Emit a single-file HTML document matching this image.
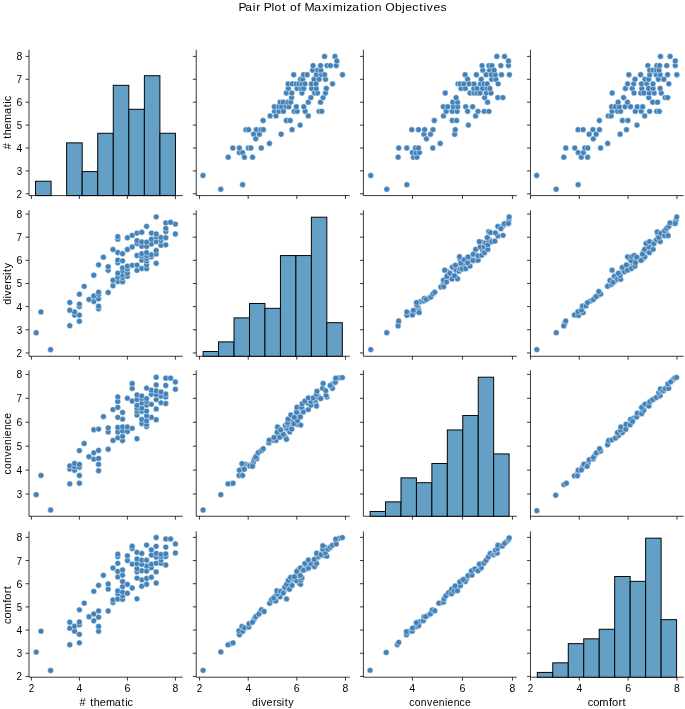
<!DOCTYPE html>
<html><head><meta charset="utf-8"><title>Pair Plot of Maximization Objectives</title><style>html,body{margin:0;padding:0;background:#fff;}svg{display:block;will-change:transform;}</style></head>
<body>
<svg width="685" height="709" viewBox="0 0 685 709">
<rect width="685" height="709" fill="#fff"/>
<path d="M29.00 49.70V195.60M29.00 195.60H182.75M31.39 195.60v3.41M79.39 195.60v3.41M127.39 195.60v3.41M175.39 195.60v3.41M29.00 193.81h-3.41M29.00 170.91h-3.41M29.00 148.00h-3.41M29.00 125.10h-3.41M29.00 102.20h-3.41M29.00 79.29h-3.41M29.00 56.39h-3.41" stroke="#000" stroke-width="0.78" fill="none"/>
<g fill="#64a0c6" stroke="#000" stroke-width="0.97"><rect x="35.55" y="181.22" width="15.54" height="14.38"/><rect x="66.64" y="142.86" width="15.54" height="52.74"/><rect x="82.18" y="171.63" width="15.54" height="23.97"/><rect x="97.73" y="133.27" width="15.54" height="62.33"/><rect x="113.27" y="85.32" width="15.54" height="110.28"/><rect x="128.82" y="109.29" width="15.54" height="86.31"/><rect x="144.36" y="75.73" width="15.54" height="119.87"/><rect x="159.91" y="133.27" width="15.54" height="62.33"/></g>
<g fill="#4282b8" stroke="#fff" stroke-width="0.47"><circle cx="202.99" cy="175.49" r="2.92"/><circle cx="220.75" cy="189.23" r="2.92"/><circle cx="228.21" cy="157.16" r="2.92"/><circle cx="242.60" cy="184.65" r="2.92"/><circle cx="232.83" cy="148.00" r="2.92"/><circle cx="239.34" cy="152.58" r="2.92"/><circle cx="239.34" cy="148.00" r="2.92"/><circle cx="242.60" cy="152.58" r="2.92"/><circle cx="244.39" cy="157.16" r="2.92"/><circle cx="248.27" cy="148.00" r="2.92"/><circle cx="252.58" cy="157.16" r="2.92"/><circle cx="250.90" cy="148.00" r="2.92"/><circle cx="245.96" cy="129.68" r="2.92"/><circle cx="248.69" cy="129.68" r="2.92"/><circle cx="253.63" cy="134.26" r="2.92"/><circle cx="255.73" cy="138.84" r="2.92"/><circle cx="261.30" cy="148.00" r="2.92"/><circle cx="256.36" cy="129.68" r="2.92"/><circle cx="259.41" cy="134.26" r="2.92"/><circle cx="260.99" cy="129.68" r="2.92"/><circle cx="263.40" cy="129.68" r="2.92"/><circle cx="269.50" cy="143.42" r="2.92"/><circle cx="263.09" cy="120.52" r="2.92"/><circle cx="270.13" cy="115.94" r="2.92"/><circle cx="281.16" cy="134.26" r="2.92"/><circle cx="274.54" cy="111.36" r="2.92"/><circle cx="276.01" cy="115.94" r="2.92"/><circle cx="274.33" cy="106.78" r="2.92"/><circle cx="278.95" cy="111.36" r="2.92"/><circle cx="278.64" cy="106.78" r="2.92"/><circle cx="281.37" cy="106.78" r="2.92"/><circle cx="280.11" cy="102.20" r="2.92"/><circle cx="283.36" cy="111.36" r="2.92"/><circle cx="286.30" cy="120.52" r="2.92"/><circle cx="283.15" cy="102.20" r="2.92"/><circle cx="292.08" cy="129.68" r="2.92"/><circle cx="290.19" cy="120.52" r="2.92"/><circle cx="285.99" cy="106.78" r="2.92"/><circle cx="288.83" cy="106.78" r="2.92"/><circle cx="287.78" cy="102.20" r="2.92"/><circle cx="286.30" cy="93.04" r="2.92"/><circle cx="290.72" cy="102.20" r="2.92"/><circle cx="294.18" cy="111.36" r="2.92"/><circle cx="288.30" cy="88.45" r="2.92"/><circle cx="300.17" cy="125.10" r="2.92"/><circle cx="291.56" cy="97.62" r="2.92"/><circle cx="288.09" cy="83.87" r="2.92"/><circle cx="297.13" cy="111.36" r="2.92"/><circle cx="291.87" cy="93.04" r="2.92"/><circle cx="296.29" cy="106.78" r="2.92"/><circle cx="292.29" cy="83.87" r="2.92"/><circle cx="297.02" cy="88.45" r="2.92"/><circle cx="296.18" cy="83.87" r="2.92"/><circle cx="305.11" cy="111.36" r="2.92"/><circle cx="303.85" cy="106.78" r="2.92"/><circle cx="293.76" cy="74.71" r="2.92"/><circle cx="308.26" cy="115.94" r="2.92"/><circle cx="298.91" cy="83.87" r="2.92"/><circle cx="301.96" cy="93.04" r="2.92"/><circle cx="301.33" cy="88.45" r="2.92"/><circle cx="300.49" cy="79.29" r="2.92"/><circle cx="301.96" cy="83.87" r="2.92"/><circle cx="303.75" cy="88.45" r="2.92"/><circle cx="308.26" cy="102.20" r="2.92"/><circle cx="302.69" cy="79.29" r="2.92"/><circle cx="305.01" cy="83.87" r="2.92"/><circle cx="303.53" cy="74.71" r="2.92"/><circle cx="310.89" cy="97.62" r="2.92"/><circle cx="307.21" cy="74.71" r="2.92"/><circle cx="311.62" cy="88.45" r="2.92"/><circle cx="319.08" cy="111.36" r="2.92"/><circle cx="311.41" cy="83.87" r="2.92"/><circle cx="314.57" cy="93.04" r="2.92"/><circle cx="321.82" cy="111.36" r="2.92"/><circle cx="317.51" cy="93.04" r="2.92"/><circle cx="320.55" cy="102.20" r="2.92"/><circle cx="316.25" cy="88.45" r="2.92"/><circle cx="314.04" cy="79.29" r="2.92"/><circle cx="316.04" cy="83.87" r="2.92"/><circle cx="312.57" cy="70.13" r="2.92"/><circle cx="323.08" cy="97.62" r="2.92"/><circle cx="313.10" cy="65.55" r="2.92"/><circle cx="316.46" cy="74.71" r="2.92"/><circle cx="319.08" cy="79.29" r="2.92"/><circle cx="317.82" cy="70.13" r="2.92"/><circle cx="325.49" cy="93.04" r="2.92"/><circle cx="321.50" cy="74.71" r="2.92"/><circle cx="326.33" cy="88.45" r="2.92"/><circle cx="320.87" cy="70.13" r="2.92"/><circle cx="320.55" cy="65.55" r="2.92"/><circle cx="325.49" cy="79.29" r="2.92"/><circle cx="324.55" cy="74.71" r="2.92"/><circle cx="332.53" cy="83.87" r="2.92"/><circle cx="327.07" cy="65.55" r="2.92"/><circle cx="324.55" cy="56.39" r="2.92"/><circle cx="330.43" cy="65.55" r="2.92"/><circle cx="336.21" cy="65.55" r="2.92"/><circle cx="334.95" cy="56.39" r="2.92"/><circle cx="336.84" cy="60.97" r="2.92"/><circle cx="342.51" cy="74.71" r="2.92"/></g>
<path d="M196.23 49.70V195.60M196.23 195.60H349.77M199.56 195.60v3.41M248.20 195.60v3.41M296.85 195.60v3.41M345.49 195.60v3.41M196.23 193.81h-3.41M196.23 170.91h-3.41M196.23 148.00h-3.41M196.23 125.10h-3.41M196.23 102.20h-3.41M196.23 79.29h-3.41M196.23 56.39h-3.41" stroke="#000" stroke-width="0.78" fill="none"/>
<g fill="#4282b8" stroke="#fff" stroke-width="0.47"><circle cx="370.72" cy="175.49" r="2.92"/><circle cx="386.81" cy="189.23" r="2.92"/><circle cx="406.88" cy="184.65" r="2.92"/><circle cx="398.10" cy="157.16" r="2.92"/><circle cx="398.73" cy="148.00" r="2.92"/><circle cx="406.78" cy="148.00" r="2.92"/><circle cx="413.46" cy="157.16" r="2.92"/><circle cx="412.31" cy="152.58" r="2.92"/><circle cx="416.91" cy="157.16" r="2.92"/><circle cx="415.87" cy="152.58" r="2.92"/><circle cx="415.45" cy="148.00" r="2.92"/><circle cx="411.79" cy="129.68" r="2.92"/><circle cx="419.42" cy="152.58" r="2.92"/><circle cx="418.48" cy="148.00" r="2.92"/><circle cx="418.48" cy="129.68" r="2.92"/><circle cx="423.92" cy="134.26" r="2.92"/><circle cx="426.42" cy="138.84" r="2.92"/><circle cx="424.65" cy="129.68" r="2.92"/><circle cx="432.80" cy="148.00" r="2.92"/><circle cx="430.50" cy="134.26" r="2.92"/><circle cx="433.01" cy="129.68" r="2.92"/><circle cx="440.22" cy="143.42" r="2.92"/><circle cx="434.26" cy="120.52" r="2.92"/><circle cx="443.46" cy="115.94" r="2.92"/><circle cx="443.36" cy="106.78" r="2.92"/><circle cx="446.18" cy="111.36" r="2.92"/><circle cx="454.64" cy="134.26" r="2.92"/><circle cx="447.75" cy="106.78" r="2.92"/><circle cx="455.27" cy="129.68" r="2.92"/><circle cx="452.34" cy="120.52" r="2.92"/><circle cx="445.24" cy="93.04" r="2.92"/><circle cx="452.24" cy="111.36" r="2.92"/><circle cx="456.63" cy="120.52" r="2.92"/><circle cx="453.39" cy="106.78" r="2.92"/><circle cx="452.76" cy="102.20" r="2.92"/><circle cx="457.15" cy="111.36" r="2.92"/><circle cx="457.67" cy="106.78" r="2.92"/><circle cx="457.47" cy="102.20" r="2.92"/><circle cx="456.11" cy="97.62" r="2.92"/><circle cx="468.33" cy="125.10" r="2.92"/><circle cx="457.99" cy="83.87" r="2.92"/><circle cx="465.72" cy="106.78" r="2.92"/><circle cx="467.60" cy="111.36" r="2.92"/><circle cx="461.02" cy="88.45" r="2.92"/><circle cx="460.18" cy="83.87" r="2.92"/><circle cx="465.30" cy="88.45" r="2.92"/><circle cx="463.84" cy="83.87" r="2.92"/><circle cx="472.62" cy="106.78" r="2.92"/><circle cx="475.65" cy="115.94" r="2.92"/><circle cx="470.01" cy="93.04" r="2.92"/><circle cx="465.09" cy="74.71" r="2.92"/><circle cx="477.95" cy="111.36" r="2.92"/><circle cx="467.60" cy="79.29" r="2.92"/><circle cx="469.17" cy="83.87" r="2.92"/><circle cx="473.98" cy="93.04" r="2.92"/><circle cx="473.77" cy="88.45" r="2.92"/><circle cx="474.08" cy="83.87" r="2.92"/><circle cx="477.11" cy="93.04" r="2.92"/><circle cx="484.22" cy="111.36" r="2.92"/><circle cx="477.11" cy="88.45" r="2.92"/><circle cx="480.04" cy="93.04" r="2.92"/><circle cx="476.38" cy="74.71" r="2.92"/><circle cx="488.92" cy="111.36" r="2.92"/><circle cx="484.64" cy="97.62" r="2.92"/><circle cx="480.46" cy="83.87" r="2.92"/><circle cx="482.55" cy="88.45" r="2.92"/><circle cx="487.57" cy="102.20" r="2.92"/><circle cx="481.19" cy="79.29" r="2.92"/><circle cx="486.21" cy="93.04" r="2.92"/><circle cx="484.12" cy="83.87" r="2.92"/><circle cx="487.15" cy="88.45" r="2.92"/><circle cx="487.15" cy="83.87" r="2.92"/><circle cx="482.76" cy="70.13" r="2.92"/><circle cx="491.01" cy="93.04" r="2.92"/><circle cx="482.03" cy="65.55" r="2.92"/><circle cx="489.86" cy="88.45" r="2.92"/><circle cx="486.10" cy="74.71" r="2.92"/><circle cx="491.64" cy="79.29" r="2.92"/><circle cx="497.81" cy="97.62" r="2.92"/><circle cx="489.55" cy="70.13" r="2.92"/><circle cx="491.33" cy="74.71" r="2.92"/><circle cx="488.92" cy="65.55" r="2.92"/><circle cx="495.93" cy="79.29" r="2.92"/><circle cx="491.96" cy="65.55" r="2.92"/><circle cx="498.12" cy="83.87" r="2.92"/><circle cx="495.30" cy="74.71" r="2.92"/><circle cx="502.93" cy="97.62" r="2.92"/><circle cx="494.05" cy="70.13" r="2.92"/><circle cx="501.47" cy="74.71" r="2.92"/><circle cx="496.87" cy="56.39" r="2.92"/><circle cx="500.84" cy="65.55" r="2.92"/><circle cx="509.41" cy="74.71" r="2.92"/><circle cx="504.50" cy="56.39" r="2.92"/><circle cx="508.47" cy="65.55" r="2.92"/><circle cx="508.47" cy="60.97" r="2.92"/></g>
<path d="M363.40 49.70V195.60M363.40 195.60H516.80M412.44 195.60v3.41M462.44 195.60v3.41M512.44 195.60v3.41M363.40 193.81h-3.41M363.40 170.91h-3.41M363.40 148.00h-3.41M363.40 125.10h-3.41M363.40 102.20h-3.41M363.40 79.29h-3.41M363.40 56.39h-3.41" stroke="#000" stroke-width="0.78" fill="none"/>
<g fill="#4282b8" stroke="#fff" stroke-width="0.47"><circle cx="536.71" cy="175.49" r="2.92"/><circle cx="556.11" cy="189.23" r="2.92"/><circle cx="563.81" cy="157.16" r="2.92"/><circle cx="565.82" cy="148.00" r="2.92"/><circle cx="578.15" cy="184.65" r="2.92"/><circle cx="574.78" cy="148.00" r="2.92"/><circle cx="578.15" cy="152.58" r="2.92"/><circle cx="581.32" cy="157.16" r="2.92"/><circle cx="583.32" cy="152.58" r="2.92"/><circle cx="578.05" cy="129.68" r="2.92"/><circle cx="587.64" cy="157.16" r="2.92"/><circle cx="584.79" cy="148.00" r="2.92"/><circle cx="587.85" cy="148.00" r="2.92"/><circle cx="583.11" cy="129.68" r="2.92"/><circle cx="589.12" cy="134.26" r="2.92"/><circle cx="593.34" cy="138.84" r="2.92"/><circle cx="592.91" cy="129.68" r="2.92"/><circle cx="596.18" cy="134.26" r="2.92"/><circle cx="600.61" cy="148.00" r="2.92"/><circle cx="599.45" cy="129.68" r="2.92"/><circle cx="599.35" cy="120.52" r="2.92"/><circle cx="607.68" cy="143.42" r="2.92"/><circle cx="608.31" cy="115.94" r="2.92"/><circle cx="611.15" cy="115.94" r="2.92"/><circle cx="612.00" cy="111.36" r="2.92"/><circle cx="620.12" cy="134.26" r="2.92"/><circle cx="611.68" cy="106.78" r="2.92"/><circle cx="615.27" cy="106.78" r="2.92"/><circle cx="617.59" cy="111.36" r="2.92"/><circle cx="612.21" cy="93.04" r="2.92"/><circle cx="622.44" cy="120.52" r="2.92"/><circle cx="620.54" cy="111.36" r="2.92"/><circle cx="626.44" cy="129.68" r="2.92"/><circle cx="619.27" cy="106.78" r="2.92"/><circle cx="618.11" cy="102.20" r="2.92"/><circle cx="627.92" cy="120.52" r="2.92"/><circle cx="625.07" cy="106.78" r="2.92"/><circle cx="623.60" cy="97.62" r="2.92"/><circle cx="627.50" cy="102.20" r="2.92"/><circle cx="630.56" cy="106.78" r="2.92"/><circle cx="636.99" cy="125.10" r="2.92"/><circle cx="625.49" cy="88.45" r="2.92"/><circle cx="635.30" cy="111.36" r="2.92"/><circle cx="627.60" cy="83.87" r="2.92"/><circle cx="637.20" cy="106.78" r="2.92"/><circle cx="632.24" cy="88.45" r="2.92"/><circle cx="634.04" cy="93.04" r="2.92"/><circle cx="628.87" cy="74.71" r="2.92"/><circle cx="641.21" cy="111.36" r="2.92"/><circle cx="633.72" cy="83.87" r="2.92"/><circle cx="644.68" cy="115.94" r="2.92"/><circle cx="642.68" cy="106.78" r="2.92"/><circle cx="634.98" cy="79.29" r="2.92"/><circle cx="640.78" cy="93.04" r="2.92"/><circle cx="641.84" cy="88.45" r="2.92"/><circle cx="649.64" cy="111.36" r="2.92"/><circle cx="643.95" cy="93.04" r="2.92"/><circle cx="641.42" cy="83.87" r="2.92"/><circle cx="640.57" cy="74.71" r="2.92"/><circle cx="648.80" cy="97.62" r="2.92"/><circle cx="649.22" cy="93.04" r="2.92"/><circle cx="645.00" cy="79.29" r="2.92"/><circle cx="646.79" cy="83.87" r="2.92"/><circle cx="652.70" cy="102.20" r="2.92"/><circle cx="648.59" cy="88.45" r="2.92"/><circle cx="656.70" cy="111.36" r="2.92"/><circle cx="648.69" cy="79.29" r="2.92"/><circle cx="659.34" cy="111.36" r="2.92"/><circle cx="654.17" cy="93.04" r="2.92"/><circle cx="653.01" cy="88.45" r="2.92"/><circle cx="657.55" cy="102.20" r="2.92"/><circle cx="649.75" cy="74.71" r="2.92"/><circle cx="653.01" cy="83.87" r="2.92"/><circle cx="647.85" cy="65.55" r="2.92"/><circle cx="649.75" cy="70.13" r="2.92"/><circle cx="653.12" cy="70.13" r="2.92"/><circle cx="661.24" cy="93.04" r="2.92"/><circle cx="660.08" cy="88.45" r="2.92"/><circle cx="656.18" cy="74.71" r="2.92"/><circle cx="658.39" cy="79.29" r="2.92"/><circle cx="665.14" cy="97.62" r="2.92"/><circle cx="656.49" cy="70.13" r="2.92"/><circle cx="656.81" cy="65.55" r="2.92"/><circle cx="660.18" cy="74.71" r="2.92"/><circle cx="667.67" cy="97.62" r="2.92"/><circle cx="659.02" cy="70.13" r="2.92"/><circle cx="663.87" cy="79.29" r="2.92"/><circle cx="659.66" cy="65.55" r="2.92"/><circle cx="668.83" cy="83.87" r="2.92"/><circle cx="660.50" cy="56.39" r="2.92"/><circle cx="667.57" cy="74.71" r="2.92"/><circle cx="666.72" cy="65.55" r="2.92"/><circle cx="670.10" cy="56.39" r="2.92"/><circle cx="676.84" cy="74.71" r="2.92"/><circle cx="675.26" cy="65.55" r="2.92"/><circle cx="675.26" cy="60.97" r="2.92"/></g>
<path d="M530.44 49.70V195.60M530.44 195.60H683.70M530.44 195.60v3.41M579.28 195.60v3.41M628.12 195.60v3.41M676.96 195.60v3.41M530.44 193.81h-3.41M530.44 170.91h-3.41M530.44 148.00h-3.41M530.44 125.10h-3.41M530.44 102.20h-3.41M530.44 79.29h-3.41M530.44 56.39h-3.41" stroke="#000" stroke-width="0.78" fill="none"/>
<g fill="#4282b8" stroke="#fff" stroke-width="0.47"><circle cx="50.59" cy="349.66" r="2.92"/><circle cx="36.19" cy="332.77" r="2.92"/><circle cx="69.79" cy="325.67" r="2.92"/><circle cx="40.99" cy="311.97" r="2.92"/><circle cx="79.39" cy="321.27" r="2.92"/><circle cx="74.59" cy="315.07" r="2.92"/><circle cx="79.39" cy="315.07" r="2.92"/><circle cx="74.59" cy="311.97" r="2.92"/><circle cx="69.79" cy="310.27" r="2.92"/><circle cx="79.39" cy="306.57" r="2.92"/><circle cx="69.79" cy="302.47" r="2.92"/><circle cx="79.39" cy="304.07" r="2.92"/><circle cx="98.59" cy="308.77" r="2.92"/><circle cx="98.59" cy="306.17" r="2.92"/><circle cx="93.79" cy="301.47" r="2.92"/><circle cx="88.99" cy="299.47" r="2.92"/><circle cx="79.39" cy="294.17" r="2.92"/><circle cx="98.59" cy="298.87" r="2.92"/><circle cx="93.79" cy="295.97" r="2.92"/><circle cx="98.59" cy="294.47" r="2.92"/><circle cx="98.59" cy="292.17" r="2.92"/><circle cx="84.19" cy="286.37" r="2.92"/><circle cx="108.19" cy="292.47" r="2.92"/><circle cx="112.99" cy="285.77" r="2.92"/><circle cx="93.79" cy="275.27" r="2.92"/><circle cx="117.79" cy="281.57" r="2.92"/><circle cx="112.99" cy="280.17" r="2.92"/><circle cx="122.59" cy="281.77" r="2.92"/><circle cx="117.79" cy="277.37" r="2.92"/><circle cx="122.59" cy="277.67" r="2.92"/><circle cx="122.59" cy="275.07" r="2.92"/><circle cx="127.39" cy="276.27" r="2.92"/><circle cx="117.79" cy="273.17" r="2.92"/><circle cx="108.19" cy="270.37" r="2.92"/><circle cx="127.39" cy="273.37" r="2.92"/><circle cx="98.59" cy="264.87" r="2.92"/><circle cx="108.19" cy="266.67" r="2.92"/><circle cx="122.59" cy="270.67" r="2.92"/><circle cx="122.59" cy="267.97" r="2.92"/><circle cx="127.39" cy="268.97" r="2.92"/><circle cx="136.99" cy="270.37" r="2.92"/><circle cx="127.39" cy="266.17" r="2.92"/><circle cx="117.79" cy="262.87" r="2.92"/><circle cx="141.79" cy="268.47" r="2.92"/><circle cx="103.39" cy="257.17" r="2.92"/><circle cx="132.19" cy="265.37" r="2.92"/><circle cx="146.59" cy="268.67" r="2.92"/><circle cx="117.79" cy="260.07" r="2.92"/><circle cx="136.99" cy="265.07" r="2.92"/><circle cx="122.59" cy="260.87" r="2.92"/><circle cx="146.59" cy="264.67" r="2.92"/><circle cx="141.79" cy="260.17" r="2.92"/><circle cx="146.59" cy="260.97" r="2.92"/><circle cx="117.79" cy="252.47" r="2.92"/><circle cx="122.59" cy="253.67" r="2.92"/><circle cx="156.19" cy="263.27" r="2.92"/><circle cx="112.99" cy="249.47" r="2.92"/><circle cx="146.59" cy="258.37" r="2.92"/><circle cx="136.99" cy="255.47" r="2.92"/><circle cx="141.79" cy="256.07" r="2.92"/><circle cx="151.39" cy="256.87" r="2.92"/><circle cx="146.59" cy="255.47" r="2.92"/><circle cx="141.79" cy="253.77" r="2.92"/><circle cx="127.39" cy="249.47" r="2.92"/><circle cx="151.39" cy="254.77" r="2.92"/><circle cx="146.59" cy="252.57" r="2.92"/><circle cx="156.19" cy="253.97" r="2.92"/><circle cx="132.19" cy="246.97" r="2.92"/><circle cx="156.19" cy="250.47" r="2.92"/><circle cx="141.79" cy="246.27" r="2.92"/><circle cx="117.79" cy="239.17" r="2.92"/><circle cx="146.59" cy="246.47" r="2.92"/><circle cx="136.99" cy="243.47" r="2.92"/><circle cx="117.79" cy="236.57" r="2.92"/><circle cx="136.99" cy="240.67" r="2.92"/><circle cx="127.39" cy="237.77" r="2.92"/><circle cx="141.79" cy="241.87" r="2.92"/><circle cx="151.39" cy="243.97" r="2.92"/><circle cx="146.59" cy="242.07" r="2.92"/><circle cx="160.99" cy="245.37" r="2.92"/><circle cx="132.19" cy="235.37" r="2.92"/><circle cx="165.79" cy="244.87" r="2.92"/><circle cx="156.19" cy="241.67" r="2.92"/><circle cx="151.39" cy="239.17" r="2.92"/><circle cx="160.99" cy="240.37" r="2.92"/><circle cx="136.99" cy="233.07" r="2.92"/><circle cx="156.19" cy="236.87" r="2.92"/><circle cx="141.79" cy="232.27" r="2.92"/><circle cx="160.99" cy="237.47" r="2.92"/><circle cx="165.79" cy="237.77" r="2.92"/><circle cx="151.39" cy="233.07" r="2.92"/><circle cx="156.19" cy="233.97" r="2.92"/><circle cx="146.59" cy="226.37" r="2.92"/><circle cx="165.79" cy="231.57" r="2.92"/><circle cx="175.39" cy="233.97" r="2.92"/><circle cx="165.79" cy="228.37" r="2.92"/><circle cx="165.79" cy="222.87" r="2.92"/><circle cx="175.39" cy="224.07" r="2.92"/><circle cx="170.59" cy="222.27" r="2.92"/><circle cx="156.19" cy="216.87" r="2.92"/></g>
<path d="M29.00 210.26V356.26M29.00 356.26H182.75M31.39 356.26v3.41M79.39 356.26v3.41M127.39 356.26v3.41M175.39 356.26v3.41M29.00 352.93h-3.41M29.00 329.78h-3.41M29.00 306.63h-3.41M29.00 283.49h-3.41M29.00 260.34h-3.41M29.00 237.19h-3.41M29.00 214.04h-3.41" stroke="#000" stroke-width="0.78" fill="none"/>
<path d="M196.23 210.26V356.26M196.23 356.26H349.77M199.56 356.26v3.41M248.20 356.26v3.41M296.85 356.26v3.41M345.49 356.26v3.41M196.23 352.93h-3.41M196.23 329.78h-3.41M196.23 306.63h-3.41M196.23 283.49h-3.41M196.23 260.34h-3.41M196.23 237.19h-3.41M196.23 214.04h-3.41" stroke="#000" stroke-width="0.78" fill="none"/>
<g fill="#64a0c6" stroke="#000" stroke-width="0.97"><rect x="203.10" y="351.47" width="15.47" height="4.79"/><rect x="218.57" y="341.88" width="15.47" height="14.38"/><rect x="234.03" y="317.90" width="15.47" height="38.36"/><rect x="249.50" y="303.52" width="15.47" height="52.74"/><rect x="264.97" y="308.31" width="15.47" height="47.95"/><rect x="280.43" y="255.57" width="15.47" height="100.69"/><rect x="295.90" y="255.57" width="15.47" height="100.69"/><rect x="311.37" y="217.21" width="15.47" height="139.05"/><rect x="326.83" y="322.70" width="15.47" height="33.56"/></g>
<g fill="#4282b8" stroke="#fff" stroke-width="0.47"><circle cx="398.36" cy="323.46" r="2.92"/><circle cx="409.65" cy="313.53" r="2.92"/><circle cx="412.93" cy="312.70" r="2.92"/><circle cx="416.28" cy="311.45" r="2.92"/><circle cx="418.42" cy="309.37" r="2.92"/><circle cx="420.10" cy="301.73" r="2.92"/><circle cx="428.52" cy="298.27" r="2.92"/><circle cx="443.58" cy="283.40" r="2.92"/><circle cx="446.67" cy="279.32" r="2.92"/><circle cx="449.42" cy="277.79" r="2.92"/><circle cx="447.29" cy="271.68" r="2.92"/><circle cx="455.98" cy="277.24" r="2.92"/><circle cx="454.30" cy="268.63" r="2.92"/><circle cx="457.20" cy="268.21" r="2.92"/><circle cx="457.73" cy="267.15" r="2.92"/><circle cx="463.30" cy="265.99" r="2.92"/><circle cx="460.17" cy="259.92" r="2.92"/><circle cx="465.84" cy="261.28" r="2.92"/><circle cx="467.82" cy="259.89" r="2.92"/><circle cx="470.47" cy="258.73" r="2.92"/><circle cx="475.50" cy="260.40" r="2.92"/><circle cx="475.66" cy="254.97" r="2.92"/><circle cx="482.37" cy="249.83" r="2.92"/><circle cx="486.03" cy="248.17" r="2.92"/><circle cx="482.52" cy="242.33" r="2.92"/><circle cx="488.16" cy="242.33" r="2.92"/><circle cx="489.46" cy="239.65" r="2.92"/><circle cx="502.58" cy="226.17" r="2.92"/><circle cx="506.40" cy="223.53" r="2.92"/><circle cx="508.84" cy="220.20" r="2.92"/><circle cx="370.75" cy="349.58" r="2.92"/><circle cx="386.77" cy="332.70" r="2.92"/><circle cx="398.06" cy="325.89" r="2.92"/><circle cx="398.67" cy="321.03" r="2.92"/><circle cx="406.83" cy="315.33" r="2.92"/><circle cx="406.83" cy="311.99" r="2.92"/><circle cx="412.47" cy="315.07" r="2.92"/><circle cx="413.38" cy="310.34" r="2.92"/><circle cx="419.18" cy="312.57" r="2.92"/><circle cx="417.66" cy="306.17" r="2.92"/><circle cx="416.74" cy="305.07" r="2.92"/><circle cx="416.43" cy="302.56" r="2.92"/><circle cx="423.76" cy="300.90" r="2.92"/><circle cx="424.36" cy="298.39" r="2.92"/><circle cx="426.20" cy="299.51" r="2.92"/><circle cx="430.83" cy="297.02" r="2.92"/><circle cx="432.91" cy="293.95" r="2.92"/><circle cx="434.74" cy="292.28" r="2.92"/><circle cx="440.84" cy="287.00" r="2.92"/><circle cx="443.68" cy="286.65" r="2.92"/><circle cx="443.47" cy="280.16" r="2.92"/><circle cx="446.52" cy="282.10" r="2.92"/><circle cx="446.83" cy="276.54" r="2.92"/><circle cx="452.01" cy="279.05" r="2.92"/><circle cx="444.70" cy="270.16" r="2.92"/><circle cx="449.88" cy="273.21" r="2.92"/><circle cx="457.50" cy="278.77" r="2.92"/><circle cx="454.45" cy="275.71" r="2.92"/><circle cx="452.32" cy="267.10" r="2.92"/><circle cx="456.28" cy="270.16" r="2.92"/><circle cx="459.03" cy="271.27" r="2.92"/><circle cx="455.37" cy="265.15" r="2.92"/><circle cx="460.10" cy="269.15" r="2.92"/><circle cx="462.08" cy="269.04" r="2.92"/><circle cx="465.74" cy="268.77" r="2.92"/><circle cx="460.86" cy="263.21" r="2.92"/><circle cx="459.49" cy="256.64" r="2.92"/><circle cx="470.01" cy="266.09" r="2.92"/><circle cx="464.07" cy="259.70" r="2.92"/><circle cx="467.61" cy="262.86" r="2.92"/><circle cx="468.03" cy="256.92" r="2.92"/><circle cx="472.90" cy="260.53" r="2.92"/><circle cx="478.10" cy="260.26" r="2.92"/><circle cx="473.22" cy="254.14" r="2.92"/><circle cx="478.10" cy="255.80" r="2.92"/><circle cx="481.75" cy="255.25" r="2.92"/><circle cx="475.65" cy="249.42" r="2.92"/><circle cx="484.50" cy="252.75" r="2.92"/><circle cx="480.23" cy="246.91" r="2.92"/><circle cx="484.20" cy="246.91" r="2.92"/><circle cx="479.32" cy="241.63" r="2.92"/><circle cx="487.86" cy="249.42" r="2.92"/><circle cx="485.72" cy="243.02" r="2.92"/><circle cx="487.86" cy="244.70" r="2.92"/><circle cx="488.46" cy="239.97" r="2.92"/><circle cx="487.18" cy="237.57" r="2.92"/><circle cx="491.75" cy="241.74" r="2.92"/><circle cx="494.80" cy="241.18" r="2.92"/><circle cx="488.70" cy="231.73" r="2.92"/><circle cx="490.53" cy="232.57" r="2.92"/><circle cx="497.85" cy="235.90" r="2.92"/><circle cx="495.41" cy="232.85" r="2.92"/><circle cx="503.04" cy="235.35" r="2.92"/><circle cx="497.85" cy="226.45" r="2.92"/><circle cx="500.91" cy="228.68" r="2.92"/><circle cx="504.26" cy="223.67" r="2.92"/><circle cx="508.53" cy="223.40" r="2.92"/><circle cx="509.14" cy="217.01" r="2.92"/></g>
<path d="M363.40 210.26V356.26M363.40 356.26H516.80M412.44 356.26v3.41M462.44 356.26v3.41M512.44 356.26v3.41M363.40 352.93h-3.41M363.40 329.78h-3.41M363.40 306.63h-3.41M363.40 283.49h-3.41M363.40 260.34h-3.41M363.40 237.19h-3.41M363.40 214.04h-3.41" stroke="#000" stroke-width="0.78" fill="none"/>
<g fill="#4282b8" stroke="#fff" stroke-width="0.47"><circle cx="564.74" cy="323.46" r="2.92"/><circle cx="576.47" cy="315.18" r="2.92"/><circle cx="580.57" cy="312.19" r="2.92"/><circle cx="582.10" cy="308.03" r="2.92"/><circle cx="590.41" cy="301.07" r="2.92"/><circle cx="594.73" cy="298.02" r="2.92"/><circle cx="598.42" cy="295.24" r="2.92"/><circle cx="609.50" cy="285.24" r="2.92"/><circle cx="610.74" cy="282.35" r="2.92"/><circle cx="615.20" cy="280.72" r="2.92"/><circle cx="615.82" cy="277.67" r="2.92"/><circle cx="617.51" cy="277.80" r="2.92"/><circle cx="621.35" cy="272.53" r="2.92"/><circle cx="623.36" cy="269.60" r="2.92"/><circle cx="624.89" cy="268.77" r="2.92"/><circle cx="626.90" cy="267.52" r="2.92"/><circle cx="628.90" cy="266.69" r="2.92"/><circle cx="633.05" cy="263.49" r="2.92"/><circle cx="629.36" cy="258.77" r="2.92"/><circle cx="633.66" cy="259.60" r="2.92"/><circle cx="638.90" cy="258.77" r="2.92"/><circle cx="642.95" cy="258.64" r="2.92"/><circle cx="643.47" cy="251.71" r="2.92"/><circle cx="647.01" cy="251.02" r="2.92"/><circle cx="649.16" cy="249.76" r="2.92"/><circle cx="647.47" cy="245.18" r="2.92"/><circle cx="651.62" cy="242.68" r="2.92"/><circle cx="655.16" cy="241.71" r="2.92"/><circle cx="658.39" cy="240.59" r="2.92"/><circle cx="659.46" cy="239.48" r="2.92"/><circle cx="657.93" cy="234.62" r="2.92"/><circle cx="662.70" cy="234.48" r="2.92"/><circle cx="666.34" cy="233.18" r="2.92"/><circle cx="672.60" cy="223.13" r="2.92"/><circle cx="675.98" cy="220.21" r="2.92"/><circle cx="536.82" cy="349.58" r="2.92"/><circle cx="556.27" cy="332.70" r="2.92"/><circle cx="563.73" cy="325.89" r="2.92"/><circle cx="565.74" cy="321.03" r="2.92"/><circle cx="574.36" cy="314.98" r="2.92"/><circle cx="578.57" cy="315.38" r="2.92"/><circle cx="577.95" cy="311.78" r="2.92"/><circle cx="583.18" cy="312.60" r="2.92"/><circle cx="581.64" cy="310.11" r="2.92"/><circle cx="582.57" cy="305.94" r="2.92"/><circle cx="585.95" cy="305.94" r="2.92"/><circle cx="587.49" cy="302.60" r="2.92"/><circle cx="593.34" cy="299.55" r="2.92"/><circle cx="596.11" cy="296.49" r="2.92"/><circle cx="600.73" cy="293.99" r="2.92"/><circle cx="598.88" cy="291.48" r="2.92"/><circle cx="607.49" cy="286.21" r="2.92"/><circle cx="611.50" cy="284.26" r="2.92"/><circle cx="609.97" cy="280.44" r="2.92"/><circle cx="613.05" cy="282.39" r="2.92"/><circle cx="614.28" cy="276.28" r="2.92"/><circle cx="617.36" cy="279.05" r="2.92"/><circle cx="620.74" cy="279.33" r="2.92"/><circle cx="612.12" cy="270.16" r="2.92"/><circle cx="620.13" cy="275.71" r="2.92"/><circle cx="618.28" cy="273.22" r="2.92"/><circle cx="624.43" cy="271.83" r="2.92"/><circle cx="622.28" cy="267.38" r="2.92"/><circle cx="627.51" cy="270.16" r="2.92"/><circle cx="626.29" cy="264.88" r="2.92"/><circle cx="631.51" cy="268.49" r="2.92"/><circle cx="634.90" cy="266.27" r="2.92"/><circle cx="631.21" cy="260.71" r="2.92"/><circle cx="627.51" cy="256.82" r="2.92"/><circle cx="635.51" cy="262.66" r="2.92"/><circle cx="631.82" cy="256.55" r="2.92"/><circle cx="634.39" cy="255.46" r="2.92"/><circle cx="636.74" cy="257.10" r="2.92"/><circle cx="641.05" cy="260.44" r="2.92"/><circle cx="644.86" cy="256.85" r="2.92"/><circle cx="642.39" cy="254.07" r="2.92"/><circle cx="644.54" cy="249.35" r="2.92"/><circle cx="649.47" cy="252.68" r="2.92"/><circle cx="648.85" cy="246.85" r="2.92"/><circle cx="646.08" cy="243.51" r="2.92"/><circle cx="653.16" cy="249.35" r="2.92"/><circle cx="649.47" cy="241.56" r="2.92"/><circle cx="653.77" cy="243.79" r="2.92"/><circle cx="656.55" cy="239.62" r="2.92"/><circle cx="660.23" cy="241.56" r="2.92"/><circle cx="658.70" cy="237.40" r="2.92"/><circle cx="657.16" cy="231.84" r="2.92"/><circle cx="660.86" cy="233.23" r="2.92"/><circle cx="664.54" cy="235.73" r="2.92"/><circle cx="668.13" cy="235.64" r="2.92"/><circle cx="664.54" cy="230.72" r="2.92"/><circle cx="666.59" cy="228.41" r="2.92"/><circle cx="668.75" cy="226.46" r="2.92"/><circle cx="669.98" cy="222.85" r="2.92"/><circle cx="675.21" cy="223.41" r="2.92"/><circle cx="676.75" cy="217.02" r="2.92"/></g>
<path d="M530.44 210.26V356.26M530.44 356.26H683.70M530.44 356.26v3.41M579.28 356.26v3.41M628.12 356.26v3.41M676.96 356.26v3.41M530.44 352.93h-3.41M530.44 329.78h-3.41M530.44 306.63h-3.41M530.44 283.49h-3.41M530.44 260.34h-3.41M530.44 237.19h-3.41M530.44 214.04h-3.41" stroke="#000" stroke-width="0.78" fill="none"/>
<g fill="#4282b8" stroke="#fff" stroke-width="0.47"><circle cx="50.59" cy="510.04" r="2.92"/><circle cx="36.19" cy="494.63" r="2.92"/><circle cx="40.99" cy="475.42" r="2.92"/><circle cx="69.79" cy="483.83" r="2.92"/><circle cx="79.39" cy="483.23" r="2.92"/><circle cx="79.39" cy="475.52" r="2.92"/><circle cx="69.79" cy="469.12" r="2.92"/><circle cx="74.59" cy="470.22" r="2.92"/><circle cx="69.79" cy="465.82" r="2.92"/><circle cx="74.59" cy="466.82" r="2.92"/><circle cx="79.39" cy="467.22" r="2.92"/><circle cx="98.59" cy="470.72" r="2.92"/><circle cx="74.59" cy="463.42" r="2.92"/><circle cx="79.39" cy="464.32" r="2.92"/><circle cx="98.59" cy="464.32" r="2.92"/><circle cx="93.79" cy="459.12" r="2.92"/><circle cx="88.99" cy="456.72" r="2.92"/><circle cx="98.59" cy="458.42" r="2.92"/><circle cx="79.39" cy="450.62" r="2.92"/><circle cx="93.79" cy="452.82" r="2.92"/><circle cx="98.59" cy="450.42" r="2.92"/><circle cx="84.19" cy="443.51" r="2.92"/><circle cx="108.19" cy="449.22" r="2.92"/><circle cx="112.99" cy="440.41" r="2.92"/><circle cx="122.59" cy="440.51" r="2.92"/><circle cx="117.79" cy="437.81" r="2.92"/><circle cx="93.79" cy="429.71" r="2.92"/><circle cx="122.59" cy="436.31" r="2.92"/><circle cx="98.59" cy="429.11" r="2.92"/><circle cx="108.19" cy="431.91" r="2.92"/><circle cx="136.99" cy="438.71" r="2.92"/><circle cx="117.79" cy="432.01" r="2.92"/><circle cx="108.19" cy="427.81" r="2.92"/><circle cx="122.59" cy="430.91" r="2.92"/><circle cx="127.39" cy="431.51" r="2.92"/><circle cx="117.79" cy="427.31" r="2.92"/><circle cx="122.59" cy="426.81" r="2.92"/><circle cx="127.39" cy="427.01" r="2.92"/><circle cx="132.19" cy="428.31" r="2.92"/><circle cx="103.39" cy="416.60" r="2.92"/><circle cx="146.59" cy="426.51" r="2.92"/><circle cx="122.59" cy="419.10" r="2.92"/><circle cx="117.79" cy="417.30" r="2.92"/><circle cx="141.79" cy="423.61" r="2.92"/><circle cx="146.59" cy="424.41" r="2.92"/><circle cx="141.79" cy="419.51" r="2.92"/><circle cx="146.59" cy="420.91" r="2.92"/><circle cx="122.59" cy="412.50" r="2.92"/><circle cx="112.99" cy="409.60" r="2.92"/><circle cx="136.99" cy="415.00" r="2.92"/><circle cx="156.19" cy="419.71" r="2.92"/><circle cx="117.79" cy="407.40" r="2.92"/><circle cx="151.39" cy="417.30" r="2.92"/><circle cx="146.59" cy="415.80" r="2.92"/><circle cx="136.99" cy="411.20" r="2.92"/><circle cx="141.79" cy="411.40" r="2.92"/><circle cx="146.59" cy="411.10" r="2.92"/><circle cx="136.99" cy="408.20" r="2.92"/><circle cx="117.79" cy="401.40" r="2.92"/><circle cx="141.79" cy="408.20" r="2.92"/><circle cx="136.99" cy="405.40" r="2.92"/><circle cx="156.19" cy="408.90" r="2.92"/><circle cx="117.79" cy="396.90" r="2.92"/><circle cx="132.19" cy="401.00" r="2.92"/><circle cx="146.59" cy="405.00" r="2.92"/><circle cx="141.79" cy="403.00" r="2.92"/><circle cx="127.39" cy="398.20" r="2.92"/><circle cx="151.39" cy="404.30" r="2.92"/><circle cx="136.99" cy="399.50" r="2.92"/><circle cx="146.59" cy="401.50" r="2.92"/><circle cx="141.79" cy="398.60" r="2.92"/><circle cx="146.59" cy="398.60" r="2.92"/><circle cx="160.99" cy="402.80" r="2.92"/><circle cx="136.99" cy="394.90" r="2.92"/><circle cx="165.79" cy="403.50" r="2.92"/><circle cx="141.79" cy="396.00" r="2.92"/><circle cx="156.19" cy="399.60" r="2.92"/><circle cx="151.39" cy="394.30" r="2.92"/><circle cx="132.19" cy="388.39" r="2.92"/><circle cx="160.99" cy="396.30" r="2.92"/><circle cx="156.19" cy="394.60" r="2.92"/><circle cx="165.79" cy="396.90" r="2.92"/><circle cx="151.39" cy="390.20" r="2.92"/><circle cx="165.79" cy="394.00" r="2.92"/><circle cx="146.59" cy="388.09" r="2.92"/><circle cx="156.19" cy="390.80" r="2.92"/><circle cx="132.19" cy="383.49" r="2.92"/><circle cx="160.99" cy="392.00" r="2.92"/><circle cx="156.19" cy="384.89" r="2.92"/><circle cx="175.39" cy="389.29" r="2.92"/><circle cx="165.79" cy="385.49" r="2.92"/><circle cx="156.19" cy="377.29" r="2.92"/><circle cx="175.39" cy="381.99" r="2.92"/><circle cx="165.79" cy="378.19" r="2.92"/><circle cx="170.59" cy="378.19" r="2.92"/></g>
<path d="M29.00 370.25V516.25M29.00 516.25H182.75M31.39 516.25v3.41M79.39 516.25v3.41M127.39 516.25v3.41M175.39 516.25v3.41M29.00 494.03h-3.41M29.00 470.10h-3.41M29.00 446.17h-3.41M29.00 422.25h-3.41M29.00 398.32h-3.41M29.00 374.39h-3.41" stroke="#000" stroke-width="0.78" fill="none"/>
<g fill="#4282b8" stroke="#fff" stroke-width="0.47"><circle cx="230.53" cy="483.57" r="2.92"/><circle cx="240.95" cy="472.77" r="2.92"/><circle cx="241.82" cy="469.63" r="2.92"/><circle cx="243.14" cy="466.42" r="2.92"/><circle cx="245.33" cy="464.38" r="2.92"/><circle cx="253.35" cy="462.77" r="2.92"/><circle cx="257.00" cy="454.72" r="2.92"/><circle cx="272.61" cy="440.30" r="2.92"/><circle cx="276.90" cy="437.34" r="2.92"/><circle cx="278.50" cy="434.71" r="2.92"/><circle cx="284.92" cy="436.75" r="2.92"/><circle cx="279.09" cy="428.43" r="2.92"/><circle cx="288.13" cy="430.03" r="2.92"/><circle cx="288.58" cy="427.26" r="2.92"/><circle cx="289.69" cy="426.75" r="2.92"/><circle cx="290.91" cy="421.42" r="2.92"/><circle cx="297.28" cy="424.41" r="2.92"/><circle cx="295.86" cy="419.00" r="2.92"/><circle cx="297.32" cy="417.10" r="2.92"/><circle cx="298.54" cy="414.56" r="2.92"/><circle cx="296.78" cy="409.75" r="2.92"/><circle cx="302.49" cy="409.60" r="2.92"/><circle cx="307.88" cy="403.18" r="2.92"/><circle cx="309.63" cy="399.67" r="2.92"/><circle cx="315.77" cy="403.02" r="2.92"/><circle cx="315.76" cy="397.63" r="2.92"/><circle cx="318.58" cy="396.38" r="2.92"/><circle cx="332.74" cy="383.83" r="2.92"/><circle cx="335.51" cy="380.18" r="2.92"/><circle cx="339.01" cy="377.84" r="2.92"/><circle cx="203.08" cy="510.00" r="2.92"/><circle cx="220.82" cy="494.67" r="2.92"/><circle cx="227.97" cy="483.87" r="2.92"/><circle cx="233.08" cy="483.28" r="2.92"/><circle cx="239.07" cy="475.47" r="2.92"/><circle cx="242.57" cy="475.47" r="2.92"/><circle cx="239.34" cy="470.07" r="2.92"/><circle cx="244.31" cy="469.20" r="2.92"/><circle cx="241.97" cy="463.65" r="2.92"/><circle cx="248.69" cy="465.11" r="2.92"/><circle cx="249.85" cy="465.99" r="2.92"/><circle cx="252.48" cy="466.28" r="2.92"/><circle cx="254.23" cy="459.27" r="2.92"/><circle cx="256.86" cy="458.69" r="2.92"/><circle cx="255.69" cy="456.93" r="2.92"/><circle cx="258.30" cy="452.50" r="2.92"/><circle cx="261.53" cy="450.51" r="2.92"/><circle cx="263.28" cy="448.76" r="2.92"/><circle cx="268.83" cy="442.92" r="2.92"/><circle cx="269.20" cy="440.20" r="2.92"/><circle cx="276.02" cy="440.40" r="2.92"/><circle cx="273.98" cy="437.48" r="2.92"/><circle cx="279.82" cy="437.19" r="2.92"/><circle cx="277.19" cy="432.23" r="2.92"/><circle cx="286.53" cy="439.23" r="2.92"/><circle cx="283.32" cy="434.27" r="2.92"/><circle cx="277.48" cy="426.97" r="2.92"/><circle cx="280.69" cy="429.89" r="2.92"/><circle cx="289.74" cy="431.93" r="2.92"/><circle cx="286.53" cy="428.14" r="2.92"/><circle cx="285.36" cy="425.51" r="2.92"/><circle cx="291.79" cy="429.01" r="2.92"/><circle cx="287.59" cy="424.49" r="2.92"/><circle cx="287.70" cy="422.59" r="2.92"/><circle cx="287.99" cy="419.09" r="2.92"/><circle cx="293.83" cy="423.76" r="2.92"/><circle cx="300.73" cy="425.07" r="2.92"/><circle cx="290.80" cy="415.00" r="2.92"/><circle cx="297.52" cy="420.69" r="2.92"/><circle cx="294.20" cy="417.30" r="2.92"/><circle cx="300.44" cy="416.90" r="2.92"/><circle cx="296.64" cy="412.23" r="2.92"/><circle cx="296.93" cy="407.26" r="2.92"/><circle cx="303.36" cy="411.93" r="2.92"/><circle cx="301.61" cy="407.26" r="2.92"/><circle cx="302.19" cy="403.76" r="2.92"/><circle cx="308.32" cy="409.60" r="2.92"/><circle cx="304.82" cy="401.13" r="2.92"/><circle cx="310.95" cy="405.22" r="2.92"/><circle cx="310.95" cy="401.42" r="2.92"/><circle cx="316.50" cy="406.09" r="2.92"/><circle cx="308.32" cy="397.92" r="2.92"/><circle cx="315.04" cy="399.96" r="2.92"/><circle cx="313.28" cy="397.92" r="2.92"/><circle cx="318.25" cy="397.34" r="2.92"/><circle cx="320.77" cy="398.57" r="2.92"/><circle cx="316.39" cy="394.19" r="2.92"/><circle cx="316.97" cy="391.27" r="2.92"/><circle cx="326.90" cy="397.11" r="2.92"/><circle cx="326.02" cy="395.36" r="2.92"/><circle cx="322.52" cy="388.35" r="2.92"/><circle cx="325.73" cy="390.69" r="2.92"/><circle cx="323.10" cy="383.39" r="2.92"/><circle cx="332.45" cy="388.35" r="2.92"/><circle cx="330.11" cy="385.43" r="2.92"/><circle cx="335.37" cy="382.22" r="2.92"/><circle cx="335.66" cy="378.13" r="2.92"/><circle cx="342.37" cy="377.55" r="2.92"/></g>
<path d="M196.23 370.25V516.25M196.23 516.25H349.77M199.56 516.25v3.41M248.20 516.25v3.41M296.85 516.25v3.41M345.49 516.25v3.41M196.23 494.03h-3.41M196.23 470.10h-3.41M196.23 446.17h-3.41M196.23 422.25h-3.41M196.23 398.32h-3.41M196.23 374.39h-3.41" stroke="#000" stroke-width="0.78" fill="none"/>
<path d="M363.40 370.25V516.25M363.40 516.25H516.80M412.44 516.25v3.41M462.44 516.25v3.41M512.44 516.25v3.41M363.40 494.03h-3.41M363.40 470.10h-3.41M363.40 446.17h-3.41M363.40 422.25h-3.41M363.40 398.32h-3.41M363.40 374.39h-3.41" stroke="#000" stroke-width="0.78" fill="none"/>
<g fill="#64a0c6" stroke="#000" stroke-width="0.97"><rect x="370.10" y="511.46" width="15.44" height="4.79"/><rect x="385.54" y="501.87" width="15.44" height="14.38"/><rect x="400.99" y="477.89" width="15.44" height="38.36"/><rect x="416.43" y="482.69" width="15.44" height="33.56"/><rect x="431.88" y="463.51" width="15.44" height="52.74"/><rect x="447.32" y="429.94" width="15.44" height="86.31"/><rect x="462.77" y="415.56" width="15.44" height="100.69"/><rect x="478.21" y="377.20" width="15.44" height="139.05"/><rect x="493.66" y="453.92" width="15.44" height="62.33"/></g>
<g fill="#4282b8" stroke="#fff" stroke-width="0.47"><circle cx="577.81" cy="473.07" r="2.92"/><circle cx="582.63" cy="467.06" r="2.92"/><circle cx="588.15" cy="463.00" r="2.92"/><circle cx="594.83" cy="455.18" r="2.92"/><circle cx="598.45" cy="451.96" r="2.92"/><circle cx="608.12" cy="442.64" r="2.92"/><circle cx="616.95" cy="436.80" r="2.92"/><circle cx="619.90" cy="432.61" r="2.92"/><circle cx="623.28" cy="428.14" r="2.92"/><circle cx="625.91" cy="426.75" r="2.92"/><circle cx="631.34" cy="423.12" r="2.92"/><circle cx="633.57" cy="418.22" r="2.92"/><circle cx="636.99" cy="415.02" r="2.92"/><circle cx="639.49" cy="413.36" r="2.92"/><circle cx="642.73" cy="411.97" r="2.92"/><circle cx="643.37" cy="405.82" r="2.92"/><circle cx="646.96" cy="405.12" r="2.92"/><circle cx="649.32" cy="403.86" r="2.92"/><circle cx="654.46" cy="398.55" r="2.92"/><circle cx="658.21" cy="396.45" r="2.92"/><circle cx="668.24" cy="386.11" r="2.92"/><circle cx="672.69" cy="379.97" r="2.92"/><circle cx="536.86" cy="510.65" r="2.92"/><circle cx="555.70" cy="495.21" r="2.92"/><circle cx="563.91" cy="484.58" r="2.92"/><circle cx="566.35" cy="483.19" r="2.92"/><circle cx="574.35" cy="475.85" r="2.92"/><circle cx="577.47" cy="475.86" r="2.92"/><circle cx="578.15" cy="470.27" r="2.92"/><circle cx="581.40" cy="470.00" r="2.92"/><circle cx="583.86" cy="464.12" r="2.92"/><circle cx="587.09" cy="466.36" r="2.92"/><circle cx="589.22" cy="459.65" r="2.92"/><circle cx="593.28" cy="459.10" r="2.92"/><circle cx="593.38" cy="457.42" r="2.92"/><circle cx="596.28" cy="452.94" r="2.92"/><circle cx="600.62" cy="450.99" r="2.92"/><circle cx="599.61" cy="448.76" r="2.92"/><circle cx="607.55" cy="444.84" r="2.92"/><circle cx="608.69" cy="440.44" r="2.92"/><circle cx="612.00" cy="439.89" r="2.92"/><circle cx="615.30" cy="438.20" r="2.92"/><circle cx="618.59" cy="435.41" r="2.92"/><circle cx="617.44" cy="432.61" r="2.92"/><circle cx="622.36" cy="432.61" r="2.92"/><circle cx="620.42" cy="430.10" r="2.92"/><circle cx="620.81" cy="427.02" r="2.92"/><circle cx="625.76" cy="429.26" r="2.92"/><circle cx="626.06" cy="424.24" r="2.92"/><circle cx="630.13" cy="424.79" r="2.92"/><circle cx="630.49" cy="419.48" r="2.92"/><circle cx="632.54" cy="421.44" r="2.92"/><circle cx="636.66" cy="416.96" r="2.92"/><circle cx="637.33" cy="413.09" r="2.92"/><circle cx="641.65" cy="413.64" r="2.92"/><circle cx="643.81" cy="410.29" r="2.92"/><circle cx="641.68" cy="407.50" r="2.92"/><circle cx="645.07" cy="404.14" r="2.92"/><circle cx="648.86" cy="406.10" r="2.92"/><circle cx="649.78" cy="401.62" r="2.92"/><circle cx="652.64" cy="399.67" r="2.92"/><circle cx="656.29" cy="397.43" r="2.92"/><circle cx="660.14" cy="395.48" r="2.92"/><circle cx="658.79" cy="392.40" r="2.92"/><circle cx="660.55" cy="390.58" r="2.92"/><circle cx="660.41" cy="388.91" r="2.92"/><circle cx="663.57" cy="390.73" r="2.92"/><circle cx="665.14" cy="388.63" r="2.92"/><circle cx="668.64" cy="388.35" r="2.92"/><circle cx="667.83" cy="383.88" r="2.92"/><circle cx="670.69" cy="381.92" r="2.92"/><circle cx="674.68" cy="378.01" r="2.92"/><circle cx="676.53" cy="377.45" r="2.92"/></g>
<path d="M530.44 370.25V516.25M530.44 516.25H683.70M530.44 516.25v3.41M579.28 516.25v3.41M628.12 516.25v3.41M676.96 516.25v3.41M530.44 494.03h-3.41M530.44 470.10h-3.41M530.44 446.17h-3.41M530.44 422.25h-3.41M530.44 398.32h-3.41M530.44 374.39h-3.41" stroke="#000" stroke-width="0.78" fill="none"/>
<g fill="#4282b8" stroke="#fff" stroke-width="0.47"><circle cx="50.59" cy="670.46" r="2.92"/><circle cx="36.19" cy="652.05" r="2.92"/><circle cx="69.79" cy="644.75" r="2.92"/><circle cx="79.39" cy="642.85" r="2.92"/><circle cx="40.99" cy="631.14" r="2.92"/><circle cx="79.39" cy="634.34" r="2.92"/><circle cx="74.59" cy="631.14" r="2.92"/><circle cx="69.79" cy="628.14" r="2.92"/><circle cx="74.59" cy="626.24" r="2.92"/><circle cx="98.59" cy="631.24" r="2.92"/><circle cx="69.79" cy="622.14" r="2.92"/><circle cx="79.39" cy="624.84" r="2.92"/><circle cx="79.39" cy="621.94" r="2.92"/><circle cx="98.59" cy="626.44" r="2.92"/><circle cx="93.79" cy="620.74" r="2.92"/><circle cx="88.99" cy="616.73" r="2.92"/><circle cx="98.59" cy="617.13" r="2.92"/><circle cx="93.79" cy="614.03" r="2.92"/><circle cx="79.39" cy="609.83" r="2.92"/><circle cx="98.59" cy="610.93" r="2.92"/><circle cx="108.19" cy="611.03" r="2.92"/><circle cx="84.19" cy="603.13" r="2.92"/><circle cx="112.99" cy="602.53" r="2.92"/><circle cx="112.99" cy="599.83" r="2.92"/><circle cx="117.79" cy="599.03" r="2.92"/><circle cx="93.79" cy="591.32" r="2.92"/><circle cx="122.59" cy="599.33" r="2.92"/><circle cx="122.59" cy="595.93" r="2.92"/><circle cx="117.79" cy="593.72" r="2.92"/><circle cx="136.99" cy="598.83" r="2.92"/><circle cx="108.19" cy="589.12" r="2.92"/><circle cx="117.79" cy="590.92" r="2.92"/><circle cx="98.59" cy="585.32" r="2.92"/><circle cx="122.59" cy="592.12" r="2.92"/><circle cx="127.39" cy="593.22" r="2.92"/><circle cx="108.19" cy="583.92" r="2.92"/><circle cx="122.59" cy="586.62" r="2.92"/><circle cx="132.19" cy="588.02" r="2.92"/><circle cx="127.39" cy="584.32" r="2.92"/><circle cx="122.59" cy="581.42" r="2.92"/><circle cx="103.39" cy="575.32" r="2.92"/><circle cx="141.79" cy="586.22" r="2.92"/><circle cx="117.79" cy="576.92" r="2.92"/><circle cx="146.59" cy="584.22" r="2.92"/><circle cx="122.59" cy="575.12" r="2.92"/><circle cx="141.79" cy="579.82" r="2.92"/><circle cx="136.99" cy="578.12" r="2.92"/><circle cx="156.19" cy="583.02" r="2.92"/><circle cx="117.79" cy="571.31" r="2.92"/><circle cx="146.59" cy="578.42" r="2.92"/><circle cx="112.99" cy="568.01" r="2.92"/><circle cx="122.59" cy="569.91" r="2.92"/><circle cx="151.39" cy="577.22" r="2.92"/><circle cx="136.99" cy="571.71" r="2.92"/><circle cx="141.79" cy="570.71" r="2.92"/><circle cx="117.79" cy="563.31" r="2.92"/><circle cx="136.99" cy="568.71" r="2.92"/><circle cx="146.59" cy="571.11" r="2.92"/><circle cx="156.19" cy="571.91" r="2.92"/><circle cx="132.19" cy="564.11" r="2.92"/><circle cx="136.99" cy="563.71" r="2.92"/><circle cx="151.39" cy="567.71" r="2.92"/><circle cx="146.59" cy="566.01" r="2.92"/><circle cx="127.39" cy="560.41" r="2.92"/><circle cx="141.79" cy="564.31" r="2.92"/><circle cx="117.79" cy="556.61" r="2.92"/><circle cx="151.39" cy="564.21" r="2.92"/><circle cx="117.79" cy="554.11" r="2.92"/><circle cx="136.99" cy="559.01" r="2.92"/><circle cx="141.79" cy="560.11" r="2.92"/><circle cx="127.39" cy="555.81" r="2.92"/><circle cx="156.19" cy="563.21" r="2.92"/><circle cx="146.59" cy="560.11" r="2.92"/><circle cx="165.79" cy="565.01" r="2.92"/><circle cx="160.99" cy="563.21" r="2.92"/><circle cx="160.99" cy="560.01" r="2.92"/><circle cx="136.99" cy="552.31" r="2.92"/><circle cx="141.79" cy="553.41" r="2.92"/><circle cx="156.19" cy="557.11" r="2.92"/><circle cx="151.39" cy="555.01" r="2.92"/><circle cx="132.19" cy="548.60" r="2.92"/><circle cx="160.99" cy="556.81" r="2.92"/><circle cx="165.79" cy="556.51" r="2.92"/><circle cx="156.19" cy="553.31" r="2.92"/><circle cx="132.19" cy="546.20" r="2.92"/><circle cx="160.99" cy="554.41" r="2.92"/><circle cx="151.39" cy="549.81" r="2.92"/><circle cx="165.79" cy="553.81" r="2.92"/><circle cx="146.59" cy="545.10" r="2.92"/><circle cx="175.39" cy="553.01" r="2.92"/><circle cx="156.19" cy="546.30" r="2.92"/><circle cx="165.79" cy="547.10" r="2.92"/><circle cx="175.39" cy="543.90" r="2.92"/><circle cx="156.19" cy="537.50" r="2.92"/><circle cx="165.79" cy="539.00" r="2.92"/><circle cx="170.59" cy="539.00" r="2.92"/></g>
<path d="M29.00 531.33V677.20M29.00 677.20H182.75M31.39 677.20v3.41M79.39 677.20v3.41M127.39 677.20v3.41M175.39 677.20v3.41M29.00 676.41h-3.41M29.00 653.24h-3.41M29.00 630.07h-3.41M29.00 606.90h-3.41M29.00 583.73h-3.41M29.00 560.56h-3.41M29.00 537.39h-3.41" stroke="#000" stroke-width="0.78" fill="none"/>
<g fill="#4282b8" stroke="#fff" stroke-width="0.47"><circle cx="230.53" cy="643.87" r="2.92"/><circle cx="239.22" cy="632.74" r="2.92"/><circle cx="242.37" cy="628.85" r="2.92"/><circle cx="246.74" cy="627.39" r="2.92"/><circle cx="254.05" cy="619.50" r="2.92"/><circle cx="257.25" cy="615.41" r="2.92"/><circle cx="260.18" cy="611.91" r="2.92"/><circle cx="270.69" cy="601.40" r="2.92"/><circle cx="273.72" cy="600.23" r="2.92"/><circle cx="275.43" cy="595.99" r="2.92"/><circle cx="278.64" cy="595.40" r="2.92"/><circle cx="278.50" cy="593.80" r="2.92"/><circle cx="284.04" cy="590.15" r="2.92"/><circle cx="287.11" cy="588.25" r="2.92"/><circle cx="287.99" cy="586.79" r="2.92"/><circle cx="289.30" cy="584.89" r="2.92"/><circle cx="290.17" cy="582.99" r="2.92"/><circle cx="293.53" cy="579.05" r="2.92"/><circle cx="298.50" cy="582.55" r="2.92"/><circle cx="297.62" cy="578.47" r="2.92"/><circle cx="298.50" cy="573.50" r="2.92"/><circle cx="298.62" cy="569.65" r="2.92"/><circle cx="305.91" cy="569.17" r="2.92"/><circle cx="306.64" cy="565.81" r="2.92"/><circle cx="307.95" cy="563.76" r="2.92"/><circle cx="312.77" cy="565.38" r="2.92"/><circle cx="315.40" cy="561.43" r="2.92"/><circle cx="316.42" cy="558.08" r="2.92"/><circle cx="317.59" cy="555.01" r="2.92"/><circle cx="318.76" cy="553.99" r="2.92"/><circle cx="323.87" cy="555.45" r="2.92"/><circle cx="324.01" cy="550.92" r="2.92"/><circle cx="325.38" cy="547.47" r="2.92"/><circle cx="335.94" cy="541.53" r="2.92"/><circle cx="339.00" cy="538.32" r="2.92"/><circle cx="203.08" cy="670.36" r="2.92"/><circle cx="220.82" cy="651.90" r="2.92"/><circle cx="227.97" cy="644.82" r="2.92"/><circle cx="233.08" cy="642.92" r="2.92"/><circle cx="239.43" cy="634.74" r="2.92"/><circle cx="239.01" cy="630.74" r="2.92"/><circle cx="242.80" cy="631.33" r="2.92"/><circle cx="241.93" cy="626.37" r="2.92"/><circle cx="244.55" cy="627.83" r="2.92"/><circle cx="248.93" cy="626.95" r="2.92"/><circle cx="248.93" cy="623.74" r="2.92"/><circle cx="252.44" cy="622.28" r="2.92"/><circle cx="255.65" cy="616.73" r="2.92"/><circle cx="258.86" cy="614.10" r="2.92"/><circle cx="261.49" cy="609.72" r="2.92"/><circle cx="264.12" cy="611.47" r="2.92"/><circle cx="269.66" cy="603.30" r="2.92"/><circle cx="271.71" cy="599.50" r="2.92"/><circle cx="275.72" cy="600.95" r="2.92"/><circle cx="273.68" cy="598.03" r="2.92"/><circle cx="280.10" cy="596.86" r="2.92"/><circle cx="277.18" cy="593.94" r="2.92"/><circle cx="276.89" cy="590.73" r="2.92"/><circle cx="286.53" cy="598.91" r="2.92"/><circle cx="280.69" cy="591.31" r="2.92"/><circle cx="283.31" cy="593.07" r="2.92"/><circle cx="284.77" cy="587.23" r="2.92"/><circle cx="289.45" cy="589.27" r="2.92"/><circle cx="286.53" cy="584.31" r="2.92"/><circle cx="292.07" cy="585.47" r="2.92"/><circle cx="288.28" cy="580.51" r="2.92"/><circle cx="290.61" cy="577.30" r="2.92"/><circle cx="296.45" cy="580.80" r="2.92"/><circle cx="300.54" cy="584.31" r="2.92"/><circle cx="294.41" cy="576.72" r="2.92"/><circle cx="300.83" cy="580.22" r="2.92"/><circle cx="301.97" cy="577.78" r="2.92"/><circle cx="300.25" cy="575.55" r="2.92"/><circle cx="296.74" cy="571.46" r="2.92"/><circle cx="300.51" cy="567.85" r="2.92"/><circle cx="303.43" cy="570.19" r="2.92"/><circle cx="308.39" cy="568.15" r="2.92"/><circle cx="304.89" cy="563.47" r="2.92"/><circle cx="311.02" cy="564.06" r="2.92"/><circle cx="314.53" cy="566.69" r="2.92"/><circle cx="308.39" cy="559.97" r="2.92"/><circle cx="316.57" cy="563.47" r="2.92"/><circle cx="314.23" cy="559.39" r="2.92"/><circle cx="318.61" cy="556.76" r="2.92"/><circle cx="316.57" cy="553.26" r="2.92"/><circle cx="320.95" cy="554.72" r="2.92"/><circle cx="326.79" cy="556.18" r="2.92"/><circle cx="325.33" cy="552.67" r="2.92"/><circle cx="322.70" cy="549.17" r="2.92"/><circle cx="322.80" cy="545.77" r="2.92"/><circle cx="327.96" cy="549.17" r="2.92"/><circle cx="330.39" cy="547.23" r="2.92"/><circle cx="332.44" cy="545.18" r="2.92"/><circle cx="336.23" cy="544.01" r="2.92"/><circle cx="335.65" cy="539.05" r="2.92"/><circle cx="342.36" cy="537.59" r="2.92"/></g>
<path d="M196.23 531.33V677.20M196.23 677.20H349.77M199.56 677.20v3.41M248.20 677.20v3.41M296.85 677.20v3.41M345.49 677.20v3.41M196.23 676.41h-3.41M196.23 653.24h-3.41M196.23 630.07h-3.41M196.23 606.90h-3.41M196.23 583.73h-3.41M196.23 560.56h-3.41M196.23 537.39h-3.41" stroke="#000" stroke-width="0.78" fill="none"/>
<g fill="#4282b8" stroke="#fff" stroke-width="0.47"><circle cx="409.34" cy="631.46" r="2.92"/><circle cx="415.62" cy="626.89" r="2.92"/><circle cx="419.86" cy="621.65" r="2.92"/><circle cx="428.03" cy="615.31" r="2.92"/><circle cx="431.39" cy="611.88" r="2.92"/><circle cx="441.13" cy="602.70" r="2.92"/><circle cx="447.23" cy="594.33" r="2.92"/><circle cx="451.61" cy="591.53" r="2.92"/><circle cx="456.28" cy="588.32" r="2.92"/><circle cx="457.74" cy="585.83" r="2.92"/><circle cx="461.53" cy="580.68" r="2.92"/><circle cx="466.64" cy="578.56" r="2.92"/><circle cx="469.99" cy="575.31" r="2.92"/><circle cx="471.72" cy="572.94" r="2.92"/><circle cx="473.18" cy="569.87" r="2.92"/><circle cx="479.61" cy="569.26" r="2.92"/><circle cx="480.34" cy="565.85" r="2.92"/><circle cx="481.65" cy="563.62" r="2.92"/><circle cx="487.20" cy="558.74" r="2.92"/><circle cx="489.39" cy="555.18" r="2.92"/><circle cx="500.19" cy="545.67" r="2.92"/><circle cx="506.62" cy="541.44" r="2.92"/><circle cx="370.08" cy="670.32" r="2.92"/><circle cx="386.21" cy="652.44" r="2.92"/><circle cx="397.31" cy="644.66" r="2.92"/><circle cx="398.77" cy="642.34" r="2.92"/><circle cx="406.43" cy="634.74" r="2.92"/><circle cx="406.42" cy="631.79" r="2.92"/><circle cx="412.26" cy="631.14" r="2.92"/><circle cx="412.55" cy="628.06" r="2.92"/><circle cx="418.69" cy="625.73" r="2.92"/><circle cx="416.35" cy="622.66" r="2.92"/><circle cx="423.36" cy="620.64" r="2.92"/><circle cx="423.94" cy="616.79" r="2.92"/><circle cx="425.69" cy="616.69" r="2.92"/><circle cx="430.37" cy="613.94" r="2.92"/><circle cx="432.41" cy="609.82" r="2.92"/><circle cx="434.74" cy="610.78" r="2.92"/><circle cx="438.83" cy="603.24" r="2.92"/><circle cx="443.43" cy="602.16" r="2.92"/><circle cx="444.01" cy="599.02" r="2.92"/><circle cx="445.77" cy="595.89" r="2.92"/><circle cx="448.69" cy="592.77" r="2.92"/><circle cx="451.61" cy="593.86" r="2.92"/><circle cx="451.61" cy="589.19" r="2.92"/><circle cx="454.23" cy="591.04" r="2.92"/><circle cx="457.45" cy="590.67" r="2.92"/><circle cx="455.11" cy="585.97" r="2.92"/><circle cx="460.36" cy="585.68" r="2.92"/><circle cx="459.78" cy="581.83" r="2.92"/><circle cx="465.33" cy="581.49" r="2.92"/><circle cx="463.28" cy="579.53" r="2.92"/><circle cx="467.96" cy="575.63" r="2.92"/><circle cx="472.01" cy="574.99" r="2.92"/><circle cx="471.43" cy="570.89" r="2.92"/><circle cx="474.93" cy="568.84" r="2.92"/><circle cx="477.85" cy="570.87" r="2.92"/><circle cx="481.36" cy="567.65" r="2.92"/><circle cx="479.31" cy="564.05" r="2.92"/><circle cx="483.99" cy="563.18" r="2.92"/><circle cx="486.03" cy="560.47" r="2.92"/><circle cx="488.37" cy="557.00" r="2.92"/><circle cx="490.41" cy="553.35" r="2.92"/><circle cx="493.62" cy="554.63" r="2.92"/><circle cx="495.52" cy="552.96" r="2.92"/><circle cx="497.27" cy="553.10" r="2.92"/><circle cx="495.37" cy="550.10" r="2.92"/><circle cx="497.56" cy="548.60" r="2.92"/><circle cx="497.85" cy="545.29" r="2.92"/><circle cx="502.53" cy="546.05" r="2.92"/><circle cx="504.57" cy="543.34" r="2.92"/><circle cx="508.66" cy="539.55" r="2.92"/><circle cx="509.24" cy="537.80" r="2.92"/></g>
<path d="M363.40 531.33V677.20M363.40 677.20H516.80M412.44 677.20v3.41M462.44 677.20v3.41M512.44 677.20v3.41M363.40 676.41h-3.41M363.40 653.24h-3.41M363.40 630.07h-3.41M363.40 606.90h-3.41M363.40 583.73h-3.41M363.40 560.56h-3.41M363.40 537.39h-3.41" stroke="#000" stroke-width="0.78" fill="none"/>
<path d="M530.44 531.33V677.20M530.44 677.20H683.70M530.44 677.20v3.41M579.28 677.20v3.41M628.12 677.20v3.41M676.96 677.20v3.41M530.44 676.41h-3.41M530.44 653.24h-3.41M530.44 630.07h-3.41M530.44 606.90h-3.41M530.44 583.73h-3.41M530.44 560.56h-3.41M530.44 537.39h-3.41" stroke="#000" stroke-width="0.78" fill="none"/>
<g fill="#64a0c6" stroke="#000" stroke-width="0.97"><rect x="537.30" y="672.41" width="15.48" height="4.79"/><rect x="552.78" y="662.82" width="15.48" height="14.38"/><rect x="568.26" y="643.64" width="15.48" height="33.56"/><rect x="583.73" y="638.84" width="15.48" height="38.36"/><rect x="599.21" y="629.25" width="15.48" height="47.95"/><rect x="614.69" y="576.51" width="15.48" height="100.69"/><rect x="630.17" y="581.31" width="15.48" height="95.89"/><rect x="645.64" y="538.15" width="15.48" height="139.05"/><rect x="661.12" y="619.66" width="15.48" height="57.54"/></g>
<g style="font-family:&quot;Liberation Sans&quot;, sans-serif" fill="#000">
<text transform="translate(31.39 692.30) scale(0.9703 1)" x="-2.84" y="0" font-size="10.2">2</text>
<text transform="translate(79.39 692.30) scale(1.0076 1)" x="-2.81" y="0" font-size="10.2">4</text>
<text transform="translate(127.39 692.30) scale(1.0437 1)" x="-2.87" y="0" font-size="10.2">6</text>
<text transform="translate(175.39 692.30) scale(1.0169 1)" x="-2.84" y="0" font-size="10.2">8</text>
<text transform="translate(199.56 692.30) scale(0.9703 1)" x="-2.84" y="0" font-size="10.2">2</text>
<text transform="translate(248.20 692.30) scale(1.0076 1)" x="-2.81" y="0" font-size="10.2">4</text>
<text transform="translate(296.85 692.30) scale(1.0437 1)" x="-2.87" y="0" font-size="10.2">6</text>
<text transform="translate(345.49 692.30) scale(1.0169 1)" x="-2.84" y="0" font-size="10.2">8</text>
<text transform="translate(412.44 692.30) scale(1.0076 1)" x="-2.81" y="0" font-size="10.2">4</text>
<text transform="translate(462.44 692.30) scale(1.0437 1)" x="-2.87" y="0" font-size="10.2">6</text>
<text transform="translate(512.44 692.30) scale(1.0169 1)" x="-2.84" y="0" font-size="10.2">8</text>
<text transform="translate(530.44 692.30) scale(0.9703 1)" x="-2.84" y="0" font-size="10.2">2</text>
<text transform="translate(579.28 692.30) scale(1.0076 1)" x="-2.81" y="0" font-size="10.2">4</text>
<text transform="translate(628.12 692.30) scale(1.0437 1)" x="-2.87" y="0" font-size="10.2">6</text>
<text transform="translate(676.96 692.30) scale(1.0169 1)" x="-2.84" y="0" font-size="10.2">8</text>
<text transform="translate(19.27 197.81) scale(0.9703 1)" x="-2.84" y="0" font-size="10.2">2</text>
<text transform="translate(19.38 174.91) scale(0.9680 1)" x="-2.80" y="0" font-size="10.2">3</text>
<text transform="translate(19.36 152.00) scale(1.0076 1)" x="-2.81" y="0" font-size="10.2">4</text>
<text transform="translate(19.35 129.10) scale(0.9511 1)" x="-2.83" y="0" font-size="10.2">5</text>
<text transform="translate(19.43 106.20) scale(1.0437 1)" x="-2.87" y="0" font-size="10.2">6</text>
<text transform="translate(19.38 83.29) scale(0.9848 1)" x="-2.84" y="0" font-size="10.2">7</text>
<text transform="translate(19.40 60.39) scale(1.0169 1)" x="-2.84" y="0" font-size="10.2">8</text>
<text transform="translate(19.27 356.93) scale(0.9703 1)" x="-2.84" y="0" font-size="10.2">2</text>
<text transform="translate(19.38 333.78) scale(0.9680 1)" x="-2.80" y="0" font-size="10.2">3</text>
<text transform="translate(19.36 310.63) scale(1.0076 1)" x="-2.81" y="0" font-size="10.2">4</text>
<text transform="translate(19.35 287.49) scale(0.9511 1)" x="-2.83" y="0" font-size="10.2">5</text>
<text transform="translate(19.43 264.34) scale(1.0437 1)" x="-2.87" y="0" font-size="10.2">6</text>
<text transform="translate(19.38 241.19) scale(0.9848 1)" x="-2.84" y="0" font-size="10.2">7</text>
<text transform="translate(19.40 218.04) scale(1.0169 1)" x="-2.84" y="0" font-size="10.2">8</text>
<text transform="translate(19.38 498.03) scale(0.9680 1)" x="-2.80" y="0" font-size="10.2">3</text>
<text transform="translate(19.36 474.10) scale(1.0076 1)" x="-2.81" y="0" font-size="10.2">4</text>
<text transform="translate(19.35 450.17) scale(0.9511 1)" x="-2.83" y="0" font-size="10.2">5</text>
<text transform="translate(19.43 426.25) scale(1.0437 1)" x="-2.87" y="0" font-size="10.2">6</text>
<text transform="translate(19.38 402.32) scale(0.9848 1)" x="-2.84" y="0" font-size="10.2">7</text>
<text transform="translate(19.40 378.39) scale(1.0169 1)" x="-2.84" y="0" font-size="10.2">8</text>
<text transform="translate(19.27 680.41) scale(0.9703 1)" x="-2.84" y="0" font-size="10.2">2</text>
<text transform="translate(19.38 657.24) scale(0.9680 1)" x="-2.80" y="0" font-size="10.2">3</text>
<text transform="translate(19.36 634.07) scale(1.0076 1)" x="-2.81" y="0" font-size="10.2">4</text>
<text transform="translate(19.35 610.90) scale(0.9511 1)" x="-2.83" y="0" font-size="10.2">5</text>
<text transform="translate(19.43 587.73) scale(1.0437 1)" x="-2.87" y="0" font-size="10.2">6</text>
<text transform="translate(19.38 564.56) scale(0.9848 1)" x="-2.84" y="0" font-size="10.2">7</text>
<text transform="translate(19.40 541.39) scale(1.0169 1)" x="-2.84" y="0" font-size="10.2">8</text>
<text transform="translate(105.88 705.50) scale(1.0722 1)" x="-24.55 -17.89 -14.69 -11.41 -5.71 0.12 8.36 14.66 18.02 20.26" y="0" font-size="10.15"># thematic</text>
<text transform="translate(273.00 705.50) scale(1.0539 1)" x="-20.01 -14.04 -11.43 -6.11 -0.08 3.28 8.32 11.11 14.56" y="0" font-size="10.15">diversity</text>
<text transform="translate(440.10 705.50) scale(1.0197 1)" x="-30.29 -24.90 -18.93 -12.80 -7.30 -1.32 4.71 7.30 13.28 19.08 24.50" y="0" font-size="10.15">convenience</text>
<text transform="translate(607.07 705.50) scale(1.0942 1)" x="-17.73 -12.72 -7.04 1.77 4.55 10.39 14.06" y="0" font-size="10.15">comfort</text>
<text transform="translate(10.60 123.05) rotate(-90) scale(1.0722 1)" x="-24.55 -17.89 -14.69 -11.41 -5.71 0.12 8.36 14.66 18.02 20.26" y="0" font-size="10.15"># thematic</text>
<text transform="translate(10.60 283.66) rotate(-90) scale(1.0539 1)" x="-20.01 -14.04 -11.43 -6.11 -0.08 3.28 8.32 11.11 14.56" y="0" font-size="10.15">diversity</text>
<text transform="translate(10.60 443.65) rotate(-90) scale(1.0197 1)" x="-30.29 -24.90 -18.93 -12.80 -7.30 -1.32 4.71 7.30 13.28 19.08 24.50" y="0" font-size="10.15">convenience</text>
<text transform="translate(10.60 604.67) rotate(-90) scale(1.0942 1)" x="-17.73 -12.72 -7.04 1.77 4.55 10.39 14.06" y="0" font-size="10.15">comfort</text>
<text transform="translate(342.98 11.00) scale(1.0313 1)" x="-101.27 -94.89 -87.49 -84.05 -79.85 -76.77 -69.38 -66.35 -59.09 -55.07 -51.48 -44.27 -40.65 -37.28 -27.77 -20.27 -13.71 -10.25 0.37 3.30 8.89 16.57 20.71 23.74 30.77 37.74 41.01 50.37 57.32 60.49 67.21 73.92 78.05 81.30 87.78 94.56" y="0" font-size="11.8">Pair Plot of Maximization Objectives</text>
</g>
</svg>
</body></html>
